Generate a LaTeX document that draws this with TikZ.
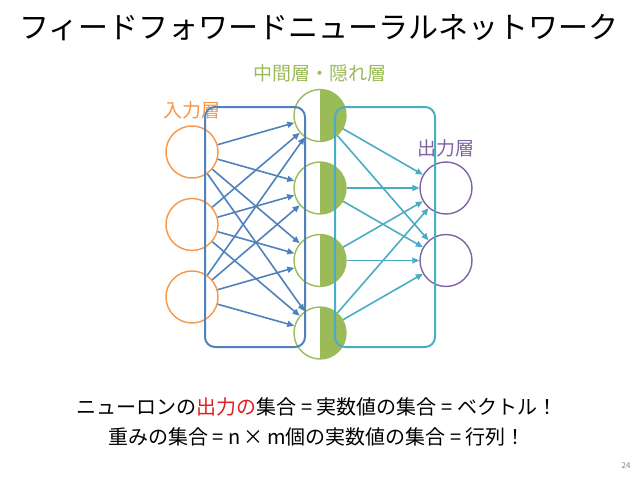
\documentclass[tikz,border=0pt]{standalone}
\usepackage{fontspec}
\setmainfont{Noto Sans CJK JP}
\usetikzlibrary{arrows.meta}
\definecolor{inorange}{HTML}{F79646}
\definecolor{hidgreen}{HTML}{9BBB59}
\definecolor{outpurple}{HTML}{8064A2}
\definecolor{inblue}{HTML}{4F81BD}
\definecolor{hidteal}{HTML}{4BACC6}
\definecolor{outred}{HTML}{E0201E}
\begin{document}
\begin{tikzpicture}[x=1pt,y=-1pt,node distance=72.5pt,
        >={Triangle[length=7pt,width=6pt]},
        unit/.style={circle,draw,line width=1.4pt,minimum size=52pt,inner sep=0pt},
        inunit/.style={unit,draw=inorange},
        hidunit/.style={unit,draw=hidgreen,path picture={\fill[hidgreen] (path picture bounding box.north) rectangle (path picture bounding box.south east);}},
        outunit/.style={unit,draw=outpurple},
        layername/.style={font=\fontsize{19}{19}\selectfont},
        wire/.style={->,line width=1.6pt},
        group/.style={draw,line width=2pt,rounded corners=10pt}]
        \useasboundingbox (0,0) rectangle (638,479);
        \node[font=\fontsize{30}{30}\selectfont] (title) at (319,28) {フィードフォワードニューラルネットワーク};

        % layers
        \node[inunit] (i1) at (192,152) {};
        \node[inunit] (i2) [below of=i1] {};
        \node[inunit] (i3) [below of=i2] {};
        \node[hidunit] (h1) at (320,115.5) {};
        \node[hidunit] (h2) [below of=h1] {};
        \node[hidunit] (h3) [below of=h2] {};
        \node[hidunit] (h4) [below of=h3] {};
        \node[outunit] (o1) at (446,188) {};
        \node[outunit] (o2) [below of=o1] {};

        \node[layername,text=inorange] (inname) at (192,110) {入力層};
        \node[layername,text=hidgreen] (hidname) at (319.5,73) {中間層・隠れ層};
        \node[layername,text=outpurple] (outname) at (446,148) {出力層};

        \foreach \i in {1,2,3}
            \foreach \j in {1,...,4}
                \draw[wire,inblue] (i\i) -- (h\j);
        \foreach \j in {1,...,4}
            \foreach \k in {1,2}
                \draw[wire,hidteal] (h\j) -- (o\k);

        \draw[group,inblue] (205,107) rectangle (305,347);
        \draw[group,hidteal] (335,107) rectangle (435,347);

        \node[font=\fontsize{20}{20}\selectfont] (vector) at (317,407) {ニューロンの\textcolor{outred}{出力の}集合 = 実数値の集合 = ベクトル！};
        \node[font=\fontsize{20}{20}\selectfont] (matrix) at (317,437) {重みの集合 = n\,×\,m個の実数値の集合 = 行列！};
        \node[text=gray,font=\fontsize{8}{8}\selectfont,anchor=east] (page) at (634,466) {24};
    \end{tikzpicture}
\end{document}
